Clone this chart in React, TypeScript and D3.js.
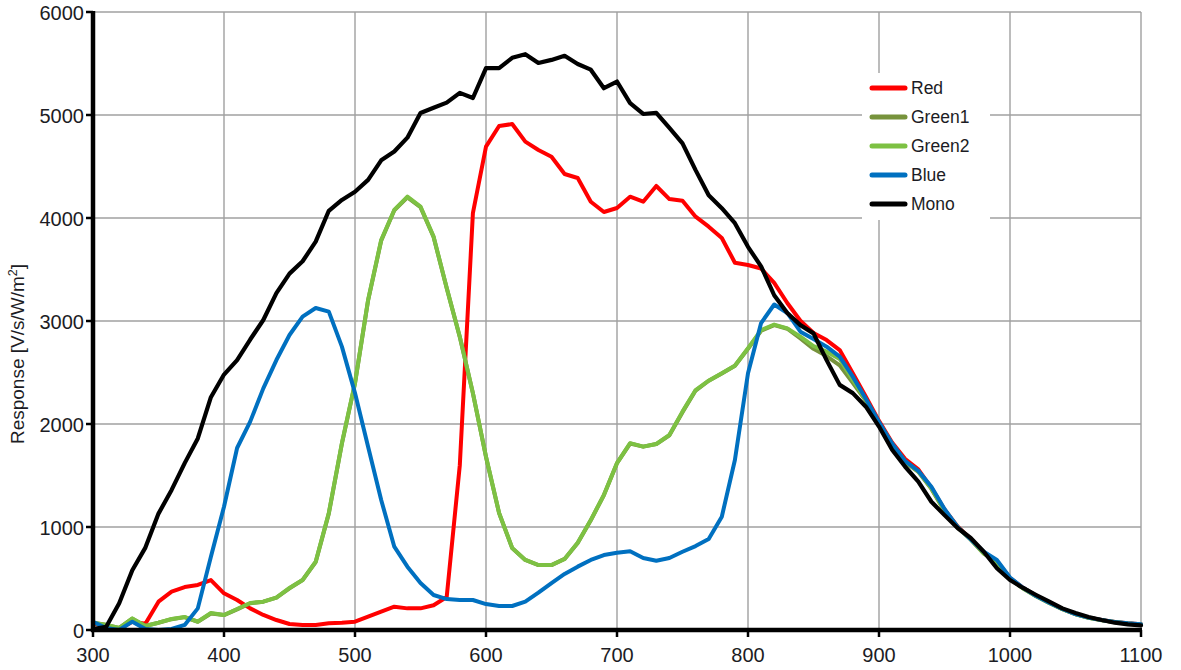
import React from 'react';
import * as d3 from 'd3';

const wavelengths: number[] = d3.range(300, 1101, 10);

const redValues = [
  60, 40, 10, 80, 60, 275, 372, 417, 437, 485,
  356, 291, 210, 146, 97, 58, 49, 49, 65, 71,
  81, 130, 178, 226, 210, 210, 240, 320, 1600, 4048,
  4693, 4893, 4912, 4741, 4660, 4595, 4427, 4388, 4158, 4058,
  4097, 4207, 4158, 4311, 4184, 4168, 4013, 3916, 3806, 3566,
  3544, 3510, 3370, 3175, 3003, 2883, 2815, 2718, 2492, 2265,
  2030, 1820, 1660, 1560, 1380, 1170, 1005, 885, 750, 665,
  505, 410, 330, 265, 205, 155, 120, 97, 78, 65, 55,
];

const green1Values = [
  70, 50, 20, 110, 40, 70, 105, 125, 80, 160,
  145, 200, 260, 275, 315, 405, 485, 660, 1130, 1810,
  2395, 3200, 3780, 4075, 4200, 4105, 3815, 3320, 2845, 2300,
  1680, 1135, 795, 680, 630, 630, 690, 845, 1065, 1310,
  1620, 1810, 1780, 1805, 1890, 2115, 2325, 2420, 2490, 2565,
  2730, 2905, 2960, 2925, 2830, 2730, 2660, 2570, 2400, 2225,
  2005, 1800, 1630, 1535, 1370, 1155, 995, 878, 742, 658,
  498, 403, 327, 262, 202, 153, 118, 95, 76, 63, 53,
];

const green2Values = [
  71, 49, 19, 113, 39, 71, 107, 126, 81, 165,
  146, 204, 262, 275, 314, 408, 485, 663, 1136, 1814,
  2398, 3204, 3786, 4078, 4207, 4110, 3819, 3320, 2848, 2300,
  1683, 1136, 796, 680, 631, 631, 689, 848, 1068, 1311,
  1621, 1814, 1780, 1806, 1893, 2120, 2330, 2420, 2492, 2566,
  2735, 2912, 2965, 2929, 2848, 2757, 2702, 2631, 2427, 2233,
  2010, 1805, 1635, 1540, 1375, 1160, 1000, 880, 745, 660,
  500, 405, 328, 263, 203, 154, 119, 96, 77, 64, 54,
];

const blueValues = [
  80, 20, 0, 81, 10, 0, 10, 49, 210, 712,
  1197, 1767, 2023, 2346, 2621, 2864, 3042, 3126, 3091, 2751,
  2300, 1780, 1262, 809, 615, 456, 340, 300, 291, 291,
  252, 233, 233, 275, 362, 456, 544, 615, 680, 728,
  750, 765, 699, 673, 699, 760, 815, 883, 1100, 1650,
  2492, 2980, 3160, 3078, 2896, 2825, 2751, 2654, 2460, 2243,
  2020, 1810, 1640, 1545, 1390, 1175, 1000, 880, 760, 680,
  510, 410, 330, 265, 204, 155, 120, 97, 78, 65, 55,
];

const monoValues = [
  10, 30, 260, 580, 800, 1130, 1360, 1620, 1860, 2260,
  2480, 2620, 2820, 3010, 3270, 3460, 3580, 3770, 4070, 4175,
  4255, 4370, 4560, 4645, 4780, 5020, 5070, 5120, 5215, 5165,
  5455, 5455, 5555, 5590, 5505, 5535, 5575, 5495, 5440, 5260,
  5325, 5115, 5010, 5020, 4875, 4725, 4465, 4220, 4095, 3950,
  3720, 3530, 3250, 3078, 2960, 2880, 2620, 2380, 2300, 2168,
  1975, 1750, 1585, 1440, 1245, 1115, 990, 893, 760, 600,
  485, 408, 340, 275, 210, 165, 126, 97, 71, 55, 45,
];

const seriesNames = ['Red', 'Green1', 'Green2', 'Blue', 'Mono'];
const seriesColors = ['#FF0000', '#77933C', '#7DC143', '#0070C0', '#000000'];
const seriesData = [redValues, green1Values, green2Values, blueValues, monoValues];

const xTicks = [300, 400, 500, 600, 700, 800, 900, 1000, 1100];
const yTicks = [0, 1000, 2000, 3000, 4000, 5000, 6000];

export default function App() {
  const x = d3.scaleLinear().domain([300, 1100]).range([93, 1141]);
  const y = d3.scaleLinear().domain([0, 6000]).range([630, 12]);
  const line = d3
    .line<number>()
    .x((_, i) => x(wavelengths[i]))
    .y((d) => y(d));

  const textColor = '#1c1c24';
  const legendX = 872;
  const legendY0 = 88;
  const legendStep = 29;

  return (
    <svg
      width={1181}
      height={670}
      style={{ position: 'absolute', left: 0, top: 0, background: '#fff' }}
      fontFamily="'Liberation Sans', Arial, sans-serif"
    >
      <rect x={0} y={0} width={1181} height={670} fill="#fff" />
      {/* grid */}
      <g stroke="#a0a0a0" strokeWidth={1.4}>
        {xTicks.slice(1).map((t) => (
          <line key={'gx' + t} x1={x(t)} x2={x(t)} y1={y(6000)} y2={y(0)} />
        ))}
        {yTicks.slice(1).map((t) => (
          <line key={'gy' + t} x1={x(300)} x2={x(1100)} y1={y(t)} y2={y(t)} />
        ))}
      </g>
      {/* legend background */}
      <rect x={862} y={73} width={128} height={147} fill="#fff" />
      {/* series */}
      <g fill="none" strokeLinejoin="round" strokeLinecap="round">
        {seriesData.map((vals, i) => (
          <path
            key={seriesNames[i]}
            d={line(vals) || ''}
            stroke={seriesColors[i]}
            strokeWidth={i === 4 ? 4.2 : 4}
          />
        ))}
      </g>
      {/* legend */}
      <g>
        {seriesNames.map((n, i) => (
          <g key={'lg' + n}>
            <line
              x1={legendX}
              x2={legendX + 33}
              y1={legendY0 + i * legendStep}
              y2={legendY0 + i * legendStep}
              stroke={seriesColors[i]}
              strokeWidth={5}
              strokeLinecap="round"
            />
            <text
              x={legendX + 39}
              y={legendY0 + i * legendStep}
              dominantBaseline="central"
              fontSize={17.5}
              fill={textColor}
            >
              {n}
            </text>
          </g>
        ))}
      </g>
      {/* axes */}
      <g stroke="#000">
        <line x1={x(300)} x2={x(300)} y1={y(6000) - 1} y2={y(0) + 2} strokeWidth={4.5} />
        <line x1={x(300) - 2} x2={x(1100) + 1} y1={y(0)} y2={y(0)} strokeWidth={4.5} />
        {yTicks.map((t) => (
          <line key={'ty' + t} x1={x(300) - 7} x2={x(300)} y1={y(t)} y2={y(t)} strokeWidth={2.5} />
        ))}
        {xTicks.map((t) => (
          <line key={'tx' + t} x1={x(t)} x2={x(t)} y1={y(0)} y2={y(0) + 7} strokeWidth={2.5} />
        ))}
      </g>
      {/* tick labels */}
      <g fontSize={20} fill={textColor}>
        {yTicks.map((t) => (
          <text key={'ly' + t} x={84} y={y(t) + 1} textAnchor="end" dominantBaseline="central">
            {t}
          </text>
        ))}
        {xTicks.map((t) => (
          <text key={'lx' + t} x={x(t)} y={655} textAnchor="middle" dominantBaseline="central">
            {t}
          </text>
        ))}
      </g>
      {/* y axis title */}
      <text
        transform="translate(24,354) rotate(-90)"
        textAnchor="middle"
        fontSize={19}
        fill={textColor}
      >
        Response [V/s/W/m
        <tspan fontSize={12.5} dy={-7}>
          2
        </tspan>
        <tspan dy={7}>]</tspan>
      </text>
    </svg>
  );
}
